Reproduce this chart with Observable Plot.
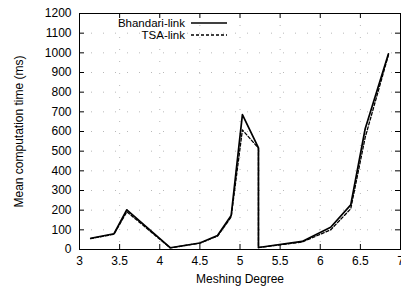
<!DOCTYPE html>
<html><head><meta charset="utf-8">
<script src="https://cdn.jsdelivr.net/npm/d3@7"></script>
<script src="https://cdn.jsdelivr.net/npm/@observablehq/plot@0.6"></script>
<style>body{margin:0;background:#fff}</style>
</head><body><div id="chart"></div>
<script>
const meshDegree = [3.14, 3.43, 3.59, 4.13, 4.5, 4.72, 4.89, 5.03, 5.23, 5.23, 5.775, 6.13, 6.38, 6.56, 6.85];
const bhandari   = [57, 80, 202, 9, 33, 71, 173, 686, 517, 10, 41, 113, 227, 614, 995];
const tsa        = [55, 78, 192, 8, 32, 68, 165, 608, 515, 10, 38, 100, 207, 570, 990];
const xTicks = [3, 3.5, 4, 4.5, 5, 5.5, 6, 6.5, 7];
const yTicks = [0, 100, 200, 300, 400, 500, 600, 700, 800, 900, 1000, 1100, 1200];
const seriesNames = ["Bhandari-link", "TSA-link"];

const W = 401, H = 290, mL = 79, mR = 1, mT = 13, mB = 41;
const plotW = W - mL - mR, plotH = H - mT - mB;
const font = "'Liberation Sans', Arial, Helvetica, sans-serif";

const bData = meshDegree.map((x, i) => ({x, y: bhandari[i]}));
const tData = meshDegree.map((x, i) => ({x, y: tsa[i]}));

function legend(index, scales, values, dims) {
  const g = d3.create("svg:g")
    .attr("font-family", font).attr("font-size", 11.5).attr("fill", "#000");
  const dashes = [null, "3,2"];
  seriesNames.forEach((name, i) => {
    const y = dims.marginTop + 10 + i * 12;
    g.append("text").attr("x", dims.marginLeft + 106).attr("y", y)
      .attr("dy", "0.35em").attr("text-anchor", "end").text(name);
    const l = g.append("line").attr("x1", dims.marginLeft + 112).attr("x2", dims.marginLeft + 148)
      .attr("y1", y).attr("y2", y).attr("stroke", "#000")
      .attr("stroke-width", i === 0 ? 1.6 : 1.3);
    if (dashes[i]) l.attr("stroke-dasharray", dashes[i]);
  });
  return g.node();
}

const chart = Plot.plot({
  width: W, height: H,
  marginLeft: mL, marginRight: mR, marginTop: mT, marginBottom: mB,
  style: {fontFamily: font, fontSize: "12px", color: "#000", background: "#fff", overflow: "visible"},
  x: {domain: [3, 7]},
  y: {domain: [0, 1200]},
  marks: [
    Plot.gridX(xTicks, {stroke: "#888", strokeOpacity: 0.6, strokeDasharray: "1,11"}),
    Plot.gridY(yTicks, {stroke: "#888", strokeOpacity: 0.6, strokeDasharray: "1,11"}),
    Plot.axisX(xTicks, {tickSize: 0, tickPadding: 7, tickFormat: d => String(d),
      label: "Meshing Degree", labelAnchor: "center", labelArrow: "none", labelOffset: 33, fontSize: 12}),
    Plot.axisY(yTicks, {tickSize: 0, tickPadding: 8, tickFormat: d => String(d),
      label: "Mean computation time (ms)", labelAnchor: "center", labelArrow: "none", labelOffset: 65, fontSize: 12}),
    Plot.tickX(xTicks, {x: d => d, insetTop: plotH - 5, stroke: "#000"}),
    Plot.tickX(xTicks, {x: d => d, insetBottom: plotH - 5, stroke: "#000"}),
    Plot.tickY(yTicks, {y: d => d, insetRight: plotW - 5, stroke: "#000"}),
    Plot.tickY(yTicks, {y: d => d, insetLeft: plotW - 5, stroke: "#000"}),
    Plot.frame({stroke: "#000", strokeWidth: 1}),
    Plot.line(tData, {x: "x", y: "y", stroke: "#000", strokeWidth: 1.3, strokeDasharray: "3,2"}),
    Plot.line(bData, {x: "x", y: "y", stroke: "#000", strokeWidth: 1.7}),
    legend
  ]
});
document.getElementById("chart").appendChild(chart);
</script>
</body></html>
